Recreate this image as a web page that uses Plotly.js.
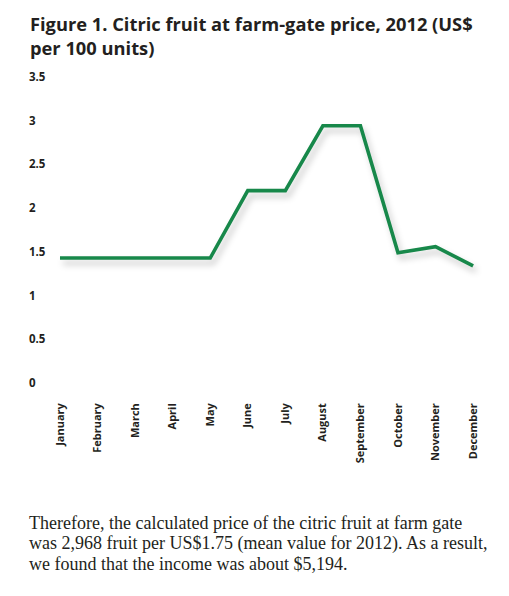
<!DOCTYPE html>
<html>
<head>
<meta charset="utf-8">
<script src="https://cdn.plot.ly/plotly-3.0.1.min.js"></script>
<style>
html,body{margin:0;padding:0;background:#fff;}
#chart{width:509px;height:596px;}
#chart .scatterlayer path.js-line{filter:drop-shadow(3px 5px 3px rgba(0,0,0,0.22));}
</style>
</head>
<body>
<div id="chart"></div>
<script>
var months = ["January","February","March","April","May","June","July","August","September","October","November","December"];
var prices = [1.43, 1.43, 1.43, 1.43, 1.43, 2.20, 2.20, 2.94, 2.94, 1.49, 1.56, 1.34];
var yTicks = [0, 0.5, 1, 1.5, 2, 2.5, 3, 3.5];
var yTickLabels = ["0", "0.5", "1", "1.5", "2", "2.5", "3", "3.5"];
var titleText = "<b>Figure 1. Citric fruit at farm-gate price, 2012 (US$<br>per 100 units)</b>";
var paragraphLines = [
  "Therefore, the calculated price of the citric fruit at farm gate",
  "was 2,968 fruit per US$1.75 (mean value for 2012). As a result,",
  "we found that the income was about $5,194."
];

var dark = "#231f20";
var trace = {
  x: months.map(function(m, i){ return i; }),
  y: prices,
  type: "scatter",
  mode: "lines",
  line: {color: "#17884a", width: 3.6},
  hoverinfo: "skip"
};

var annotations = paragraphLines.map(function(t, i){
  return {
    text: t, xref: "paper", yref: "paper",
    x: 1/464, xanchor: "left",
    y: 0, yanchor: "middle",
    yshift: -(523 - 392) - i * 20.7,
    showarrow: false, align: "left",
    font: {family: "Liberation Serif, serif", size: 18, color: dark}
  };
});

var layout = {
  width: 509, height: 596,
  margin: {l: 26, r: 19, t: 68, b: 204, pad: 0},
  paper_bgcolor: "#fff", plot_bgcolor: "#fff",
  showlegend: false,
  title: {
    text: titleText,
    x: 30/509, xanchor: "left", xref: "container",
    y: 1 - 31/596, yanchor: "top", yref: "container",
    font: {family: "Open Sans, sans-serif", size: 18.3, color: dark}
  },
  xaxis: {
    range: [-0.905, 11.45],
    tickmode: "array",
    tickvals: months.map(function(m, i){ return i; }),
    ticktext: months.map(function(m){ return "<b>" + m + "</b>"; }),
    tickangle: -90,
    showgrid: false, zeroline: false, showline: false,
    ticks: "", ticklabelstandoff: 8,
    tickfont: {family: "Open Sans, sans-serif", size: 11, color: dark},
    fixedrange: true
  },
  yaxis: {
    range: [-0.1, 3.6],
    tickmode: "array",
    tickvals: yTicks,
    ticktext: yTickLabels.map(function(t){ return "<b>" + t + "</b>"; }),
    ticklabelposition: "inside",
    showgrid: false, zeroline: false, showline: false,
    ticks: "",
    tickfont: {family: "Open Sans, sans-serif", size: 11.5, color: dark},
    fixedrange: true
  },
  annotations: annotations
};

Plotly.newPlot("chart", [trace], layout, {displayModeBar: false, staticPlot: true});
</script>
</body>
</html>
